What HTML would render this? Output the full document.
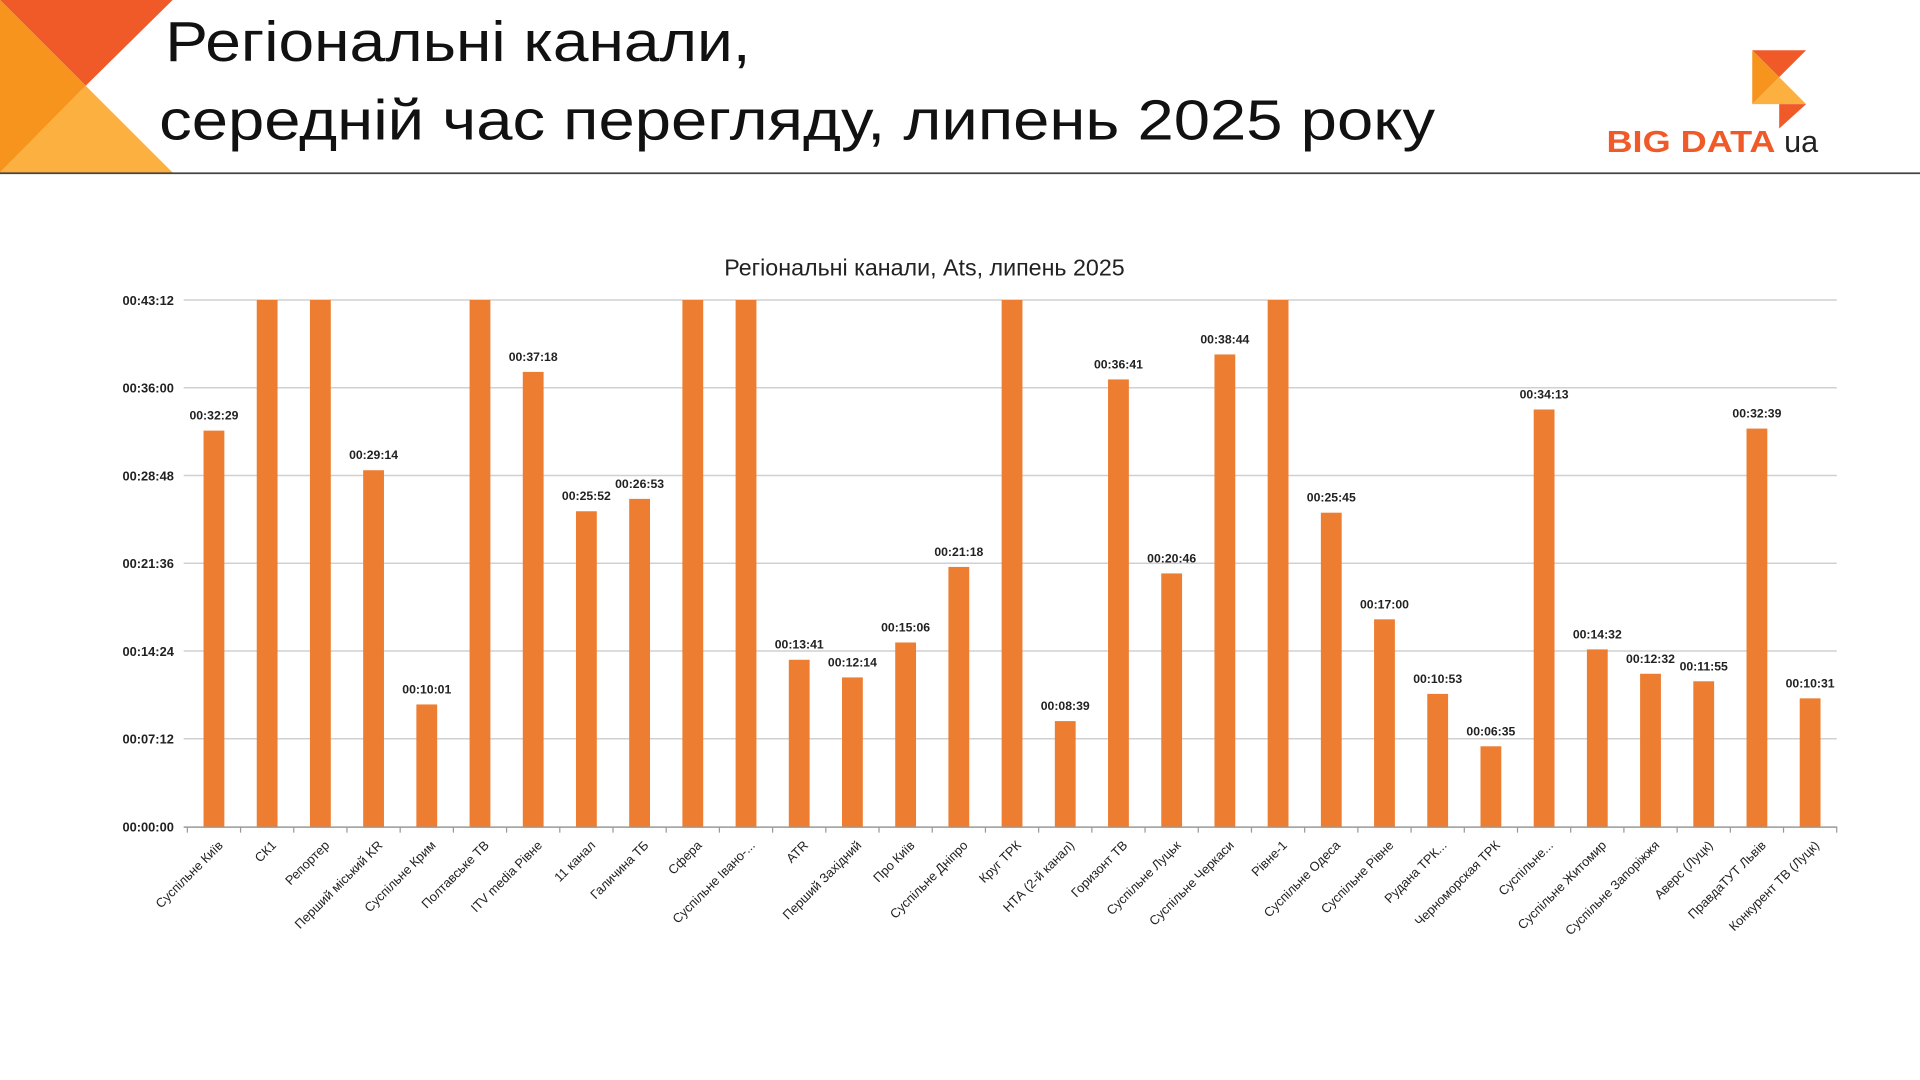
<!DOCTYPE html>
<html><head><meta charset="utf-8">
<style>
html,body{margin:0;padding:0;background:#fff;width:1920px;height:1080px;overflow:hidden}
svg{display:block}
text{font-family:"Liberation Sans","DejaVu Sans",sans-serif}
</style></head>
<body>
<svg id="chart" width="1920" height="1080" viewBox="0 0 1568 882" xmlns="http://www.w3.org/2000/svg">
  <g>
    <polygon points="0,0 141,0 70,70" fill="#f05a28"/>
    <polygon points="0,0 70,70 0,141" fill="#f7941d"/>
    <polygon points="0,141 70,70 141,141" fill="#fbb040"/>
  </g>
  <line x1="0" y1="141.5" x2="1568" y2="141.5" stroke="#444" stroke-width="1.5"/>
  <text x="135" y="50" font-size="46" fill="#111" textLength="478" lengthAdjust="spacingAndGlyphs">Регіональні канали,</text>
  <text x="130" y="114" font-size="46" fill="#111" textLength="1042" lengthAdjust="spacingAndGlyphs">середній час перегляду, липень 2025 року</text>
  <g>
    <polygon points="1431,41 1475,41 1453,63" fill="#f05a28"/>
    <polygon points="1431,41 1453,63 1431,85" fill="#f7941d"/>
    <polygon points="1431,85 1453,63 1475,85" fill="#fbb040"/>
    <polygon points="1453,85 1475,85 1453,105" fill="#f05a28"/>
    <text x="1312" y="124" font-size="25" font-weight="bold" fill="#f05a28" textLength="138" lengthAdjust="spacingAndGlyphs">BIG DATA</text>
    <text x="1457" y="124" font-size="25" fill="#222">ua</text>
  </g>
  <text x="755" y="225" font-size="19" fill="#222" text-anchor="middle">Регіональні канали, Ats, липень 2025</text>
  <g id="plot"></g>
</svg>
<script>
const categories = ["Суспільне Київ","СК1","Репортер","Перший міський KR","Суспільне Крим","Полтавське ТВ","ITV media Рівне","11 канал","Галичина ТБ","Сфера","Суспільне Івано-...","ATR","Перший Західний","Про Київ","Суспільне Дніпро","Круг ТРК","НТА (2-й канал)","Горизонт ТВ","Суспільне Луцьк","Суспільне Черкаси","Рівне-1","Суспільне Одеса","Суспільне Рівне","Рудана ТРК...","Черноморская ТРК","Суспільне...","Суспільне Житомир","Суспільне Запоріжжя","Аверс (Луцк)","ПравдаТУТ Львів","Конкурент ТВ (Луцк)"];
// seconds; bars above axis max are clipped
const values = [1949,3000,3000,1754,601,3000,2238,1552,1613,3000,3000,821,734,906,1278,3000,519,2201,1246,2324,3000,1545,1020,653,395,2053,872,752,715,1959,631];
const showLabel = [1,0,0,1,1,0,1,1,1,0,0,1,1,1,1,0,1,1,1,1,0,1,1,1,1,1,1,1,1,1,1];
const yTicks = [0,432,864,1296,1728,2160,2592];
const yMax = 2592;
const NS="http://www.w3.org/2000/svg";
const plot=document.getElementById('plot');
const X0=150,X1=1500,Y0=675,Y1=245,BX0=153;
const n=categories.length, step=(X1-BX0)/n;
const y=v=>Y0-(Math.min(v,yMax)/yMax)*(Y0-Y1);
const xc=i=>BX0+step*(i+0.5);
const fmt=s=>{const h=Math.floor(s/3600),m=Math.floor(s%3600/60),ss=s%60;return [h,m,ss].map(v=>String(v).padStart(2,'0')).join(':');};
function mk(tag,attrs,txt){const e=document.createElementNS(NS,tag);for(const k in attrs)e.setAttribute(k,attrs[k]);if(txt!==undefined)e.textContent=txt;plot.appendChild(e);return e;}
yTicks.forEach(t=>{
  if(t>0){const g=mk('line',{x1:X0,x2:X1,y1:y(t),y2:y(t),stroke:'#d0d0d0','stroke-width':1.2});
  
  }
  const l=mk('text',{x:142,y:y(t)+4,'font-size':10.5,'font-weight':'bold','text-anchor':'end',fill:'#222'},fmt(t));
  
  
});
const ax=mk('line',{x1:X0,x2:X1,y1:Y0+0.5,y2:Y0+0.5,stroke:'#999','stroke-width':1.2});


for(let i=0;i<=n;i++){const tk=mk('line',{x1:BX0+step*i,x2:BX0+step*i,y1:Y0,y2:Y0+5,stroke:'#999'});

}
categories.forEach((c,i)=>{
  const cx=xc(i), top=y(values[i]);
  const b=mk('rect',{x:cx-8.5,y:top,width:17,height:Y0-top,fill:'#ed7d31'});
  
  
  if(showLabel[i]){const dl=mk('text',{x:cx,y:top-9,'font-size':10,'font-weight':'bold','text-anchor':'middle',fill:'#222'},fmt(values[i]));
  
  }
  const xl=mk('text',{x:cx+8,y:Y0+16,'font-size':10.5,'text-anchor':'end',fill:'#222',transform:`rotate(-45 ${cx+8} ${Y0+16})`},c);
  
  
});
</script>
</body></html>
